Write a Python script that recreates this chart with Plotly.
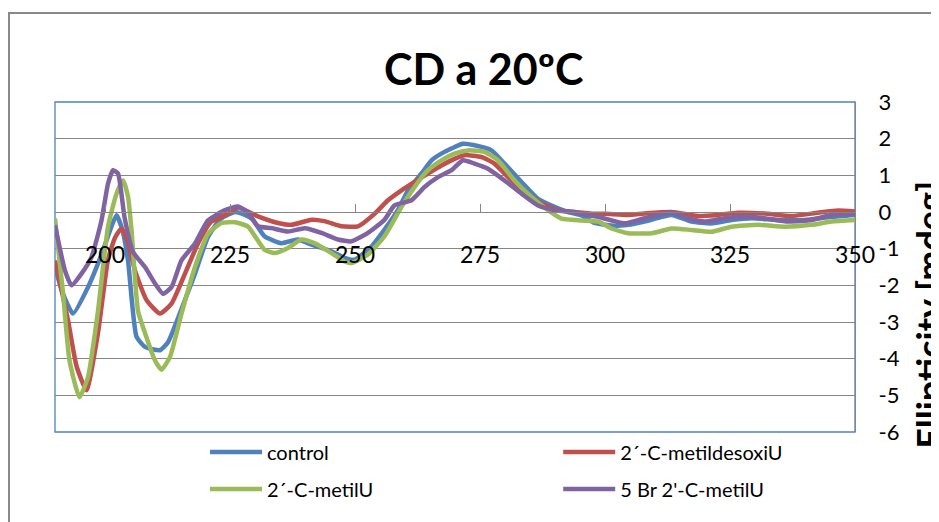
import plotly.graph_objects as go

# ---- data ----
wl_control = [190, 191.5, 193.6, 196.6, 199.6, 201, 202.3, 203.5, 204.6, 206.3, 208, 211, 212.6, 215.2, 218,
              220.6, 223.2, 226, 228, 229.5, 231.9, 235.3, 238.6, 241.3, 245.3, 247.9, 249.9, 253.3, 255.9, 258.6,
              260.6, 263.3, 265.3, 267.9, 271.6, 273.9, 277.3, 279.9, 283.3, 286.6, 289.9, 292.6, 295.3, 297.9,
              300, 302, 304.6, 307.9, 313.3, 317.3, 321.3, 325.3, 329.3, 334.6, 339.9, 345.3, 350]
v_control = [-1.5, -2.2, -2.77, -2.05, -1.05, -0.5, -0.09, -0.5, -1.32, -3.4, -3.68, -3.77, -3.55, -2.68, -1.68,
             -0.68, -0.18, 0.0, -0.08, -0.2, -0.66, -0.85, -0.75, -0.89, -1.07, -1.25, -1.3, -0.94, -0.48, 0.06,
             0.59, 1.05, 1.41, 1.64, 1.86, 1.82, 1.68, 1.32, 0.82, 0.36, 0.14, 0.0, -0.09, -0.3,
             -0.35, -0.38, -0.35, -0.26, -0.08, -0.26, -0.31, -0.22, -0.17, -0.22, -0.22, -0.13, -0.08]

wl_desoxi = [190, 192.6, 194.3, 196.3, 198.6, 200.6, 202, 203.3, 204.5, 206, 208.3, 211, 213.3, 216, 218.6,
             221.2, 224.6, 226.6, 230.6, 234.6, 237.3, 241.3, 243.9, 247.3, 250.6, 253.9, 256.6, 259.3, 261.9,
             264.6, 267.3, 269.9, 271.9, 275.3, 277.9, 280.6, 283.9, 287.3, 290.6, 293.9, 297.9, 300, 304.6,
             307.9, 313.3, 318.6, 322.6, 326.6, 331.9, 337.3, 342.6, 346.6, 350]
v_desoxi = [-1.32, -2.95, -4.2, -4.86, -3.3, -1.3, -0.7, -0.45, -0.8, -1.6, -2.4, -2.77, -2.5, -1.68, -0.86,
            -0.27, -0.05, 0.12, -0.12, -0.3, -0.35, -0.21, -0.25, -0.39, -0.39, -0.05, 0.32, 0.59, 0.82,
            1.05, 1.27, 1.45, 1.55, 1.5, 1.32, 0.95, 0.55, 0.23, 0.05, 0.0, -0.05, -0.05, -0.08,
            -0.04, 0.0, -0.11, -0.08, -0.02, -0.04, -0.11, -0.02, 0.04, 0.01]

wl_metilU = [190, 191.6, 192.9, 194.9, 196.6, 198.6, 200.6, 202.3, 203.6, 204.6, 205.3, 206.6, 208, 210, 211.3,
             213, 215.3, 218, 220.6, 223.3, 226, 228.6, 231.9, 233.9, 236.6, 239.3, 241.9, 245.3, 247.9, 249.3,
             252.6, 255.9, 259.3, 261.9, 264.6, 267.3, 269.9, 272.6, 275.9, 278.6, 281.9, 285.3, 288.6, 291.3,
             295.3, 298.6, 301.3, 304.6, 309.3, 313.3, 317.3, 321.3, 325.3, 330.6, 335.9, 341.3, 345.3, 350]
v_metilU = [-0.18, -2.2, -4.05, -5.05, -4.5, -2.7, -0.4, 0.5, 0.86, 0.42, -0.49, -2.7, -3.3, -4.05, -4.3,
            -3.95, -2.77, -1.5, -0.6, -0.3, -0.28, -0.4, -1.03, -1.12, -0.98, -0.75, -0.85, -1.12, -1.35, -1.39,
            -1.16, -0.66, 0.14, 0.68, 1.14, 1.41, 1.59, 1.68, 1.64, 1.41, 0.86, 0.41, 0.05, -0.18,
            -0.23, -0.26, -0.45, -0.58, -0.58, -0.45, -0.49, -0.54, -0.4, -0.35, -0.4, -0.35, -0.26, -0.22]

wl_br = [190, 192, 193.3, 195.3, 197.3, 199.3, 200.6, 201.6, 202.6, 203.9, 205.6, 208, 210, 211.6, 213.3,
         215.3, 218, 220.6, 224, 226.6, 228.5, 230.6, 233.3, 236.6, 240, 243.3, 246.6, 249.3, 252.6, 255.9,
         257.9, 261.3, 263.9, 266.6, 269.3, 271.6, 273.9, 276.6, 279.9, 283.3, 286.6, 289.9, 293.9, 296.6,
         298.6, 303.9, 307.9, 313.3, 316.6, 319.9, 323.9, 327.9, 331.9, 336.6, 341.3, 345.3, 350]
v_br = [-0.36, -1.6, -2.0, -1.68, -1.23, -0.23, 0.77, 1.14, 1.05, -0.14, -1.09, -1.5, -1.95, -2.23, -2.05,
        -1.32, -0.86, -0.23, 0.05, 0.15, 0.0, -0.39, -0.44, -0.53, -0.44, -0.57, -0.75, -0.8, -0.57, -0.21,
        0.18, 0.32, 0.68, 0.95, 1.14, 1.41, 1.32, 1.18, 0.86, 0.5, 0.18, 0.05, 0.0, -0.09,
        -0.13, -0.31, -0.17, -0.02, -0.17, -0.26, -0.17, -0.13, -0.17, -0.26, -0.22, -0.08, -0.05]

series_names = ["control", "2´-C-metildesoxiU", "2´-C-metilU", "5 Br 2'-C-metilU"]
series_colors = ["#4F81BD", "#C0504D", "#9BBB59", "#8064A2"]
series_legends = ["legend", "legend2", "legend3", "legend4"]

x_tick_vals = [200, 225, 250, 275, 300, 325, 350]
y_tick_vals = [-6, -5, -4, -3, -2, -1, 0, 1, 2, 3]
y_tick_text = ["-6", "-5", "-4", "-3", "-2", "-1", "0", "1", "2", "3"]

title_text = "CD a 20ºC"
y_title_text = "Ellipticity [mdeg]"

FONT = "Lato"
GRID = "#868686"

fig = go.Figure()
for name, xs, ys, col, lg in zip(series_names, [wl_control, wl_desoxi, wl_metilU, wl_br],
                                 [v_control, v_desoxi, v_metilU, v_br], series_colors, series_legends):
    fig.add_trace(go.Scatter(x=xs, y=ys, name=name, mode="lines", legend=lg,
                             line=dict(color=col, width=4.5, shape="spline", smoothing=0.5)))


def leg(x, y):
    return dict(orientation="h", x=x, y=y, xanchor="left", yanchor="middle",
                itemwidth=52, bgcolor="rgba(0,0,0,0)", borderwidth=0,
                font=dict(family=FONT, size=20, color="black"))


fig.update_layout(
    width=939, height=522,
    margin=dict(l=47, r=92, t=94, b=98, autoexpand=False),
    paper_bgcolor="white", plot_bgcolor="white",
    font=dict(family=FONT, size=20, color="black"),
    showlegend=True,
    xaxis=dict(range=[190, 350], tickmode="array", tickvals=x_tick_vals,
               anchor="free", position=6 / 9,
               showline=True, linecolor=GRID, linewidth=1.3,
               ticks="inside", ticklen=8, tickcolor=GRID, tickwidth=1.3,
               showgrid=False, zeroline=False, ticklabelstandoff=22,
               tickfont=dict(family=FONT, size=23, color="black")),
    yaxis=dict(range=[-6, 3], tickmode="array", tickvals=y_tick_vals, ticktext=y_tick_text,
               side="right", showline=True, linecolor=GRID, linewidth=1.3,
               showgrid=True, gridcolor=GRID, gridwidth=1.3, zeroline=False,
               ticks="", ticklabelstandoff=18,
               tickfont=dict(family=FONT, size=22, color="black")),
    legend=leg(0.1875, -0.0606),
    legend2=leg(0.629, -0.0606),
    legend3=leg(0.1875, -0.1727),
    legend4=leg(0.629, -0.1727),
    shapes=[
        dict(type="rect", xref="paper", yref="paper", x0=0, x1=1, y0=0, y1=1,
             line=dict(color="#4F81BD", width=1.3), layer="between"),
        dict(type="rect", xref="paper", yref="paper", x0=-0.0575, x1=1.3, y0=-0.6, y1=1.2697,
             line=dict(color="#898989", width=2), layer="below"),
    ],
    annotations=[
        dict(text="<b>" + title_text + "</b>", xref="paper", yref="paper", x=0.535, y=1.103,
             xanchor="center", yanchor="middle", showarrow=False,
             font=dict(family=FONT, size=43, color="black")),
        dict(text="<b>" + y_title_text + "</b>", xref="paper", yref="paper", x=1.0625, y=0.355,
             xanchor="left", yanchor="middle", textangle=-90, showarrow=False,
             font=dict(family=FONT, size=36, color="black")),
    ],
)

fig.write_html("out.html")
